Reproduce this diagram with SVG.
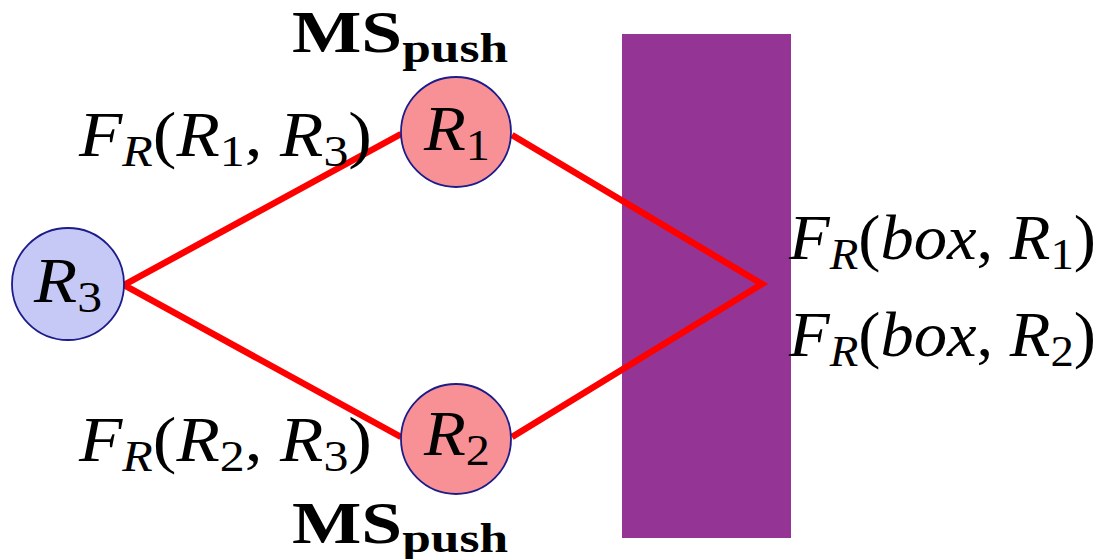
<svg xmlns="http://www.w3.org/2000/svg" width="1101" height="559" viewBox="0 0 1101 559">
<style>
.node{stroke:#1c1c8a;stroke-width:1.8}
.red{fill:#f79196}
.blue{fill:#c6c9f6}
.edge{stroke:#ff0000;stroke-width:6.5;fill:none;stroke-linejoin:miter}
.m{font-family:"Liberation Serif","Times New Roman",serif;font-size:64px;fill:#000}
.i{font-style:italic}
.s{font-size:45px}
.b{font-family:"Liberation Serif","Times New Roman",serif;font-weight:bold;font-size:60px;fill:#000}
.bs{font-size:42px}
</style>
<rect width="1101" height="559" fill="#ffffff"/>
<g id="box"><rect x="622" y="34" width="169" height="504" fill="#943494"/></g>
<g id="connectors">
<polyline class="edge" points="401,134 124,285 401,437"/>
<polyline class="edge" points="512,135 762,284 512,437"/>
</g>
<g id="R3"><circle class="node blue" cx="68" cy="284" r="56"/>
<text class="m" x="34" y="302" textLength="68" lengthAdjust="spacingAndGlyphs"><tspan class="i">R</tspan><tspan class="s" dy="10">3</tspan></text></g>
<g id="R1"><circle class="node red" cx="456" cy="132" r="55"/>
<text class="m" x="424" y="150" textLength="66" lengthAdjust="spacingAndGlyphs"><tspan class="i">R</tspan><tspan class="s" dy="10">1</tspan></text></g>
<g id="R2"><circle class="node red" cx="456" cy="439" r="55"/>
<text class="m" x="424" y="455" textLength="66" lengthAdjust="spacingAndGlyphs"><tspan class="i">R</tspan><tspan class="s" dy="10">2</tspan></text></g>
<g id="labels">
<text class="b" x="292" y="52" textLength="216" lengthAdjust="spacingAndGlyphs">MS<tspan class="bs" dy="10">push</tspan></text>
<text class="b" x="292" y="543" textLength="216" lengthAdjust="spacingAndGlyphs">MS<tspan class="bs" dy="9">push</tspan></text>
<text class="m" x="79" y="156" textLength="293" lengthAdjust="spacingAndGlyphs"><tspan class="i">F</tspan><tspan class="s i" dy="10">R</tspan><tspan dy="-10">(</tspan><tspan class="i">R</tspan><tspan class="s" dy="10">1</tspan><tspan dy="-10">, </tspan><tspan class="i">R</tspan><tspan class="s" dy="10">3</tspan><tspan dy="-10">)</tspan></text>
<text class="m" x="79" y="461" textLength="293" lengthAdjust="spacingAndGlyphs"><tspan class="i">F</tspan><tspan class="s i" dy="10">R</tspan><tspan dy="-10">(</tspan><tspan class="i">R</tspan><tspan class="s" dy="10">2</tspan><tspan dy="-10">, </tspan><tspan class="i">R</tspan><tspan class="s" dy="10">3</tspan><tspan dy="-10">)</tspan></text>
<text class="m" x="789" y="259" textLength="307" lengthAdjust="spacingAndGlyphs"><tspan class="i">F</tspan><tspan class="s i" dy="10">R</tspan><tspan dy="-10">(</tspan><tspan class="i">box</tspan><tspan>, </tspan><tspan class="i">R</tspan><tspan class="s" dy="10">1</tspan><tspan dy="-10">)</tspan></text>
<text class="m" x="789" y="356" textLength="307" lengthAdjust="spacingAndGlyphs"><tspan class="i">F</tspan><tspan class="s i" dy="10">R</tspan><tspan dy="-10">(</tspan><tspan class="i">box</tspan><tspan>, </tspan><tspan class="i">R</tspan><tspan class="s" dy="10">2</tspan><tspan dy="-10">)</tspan></text>
</g>
</svg>
